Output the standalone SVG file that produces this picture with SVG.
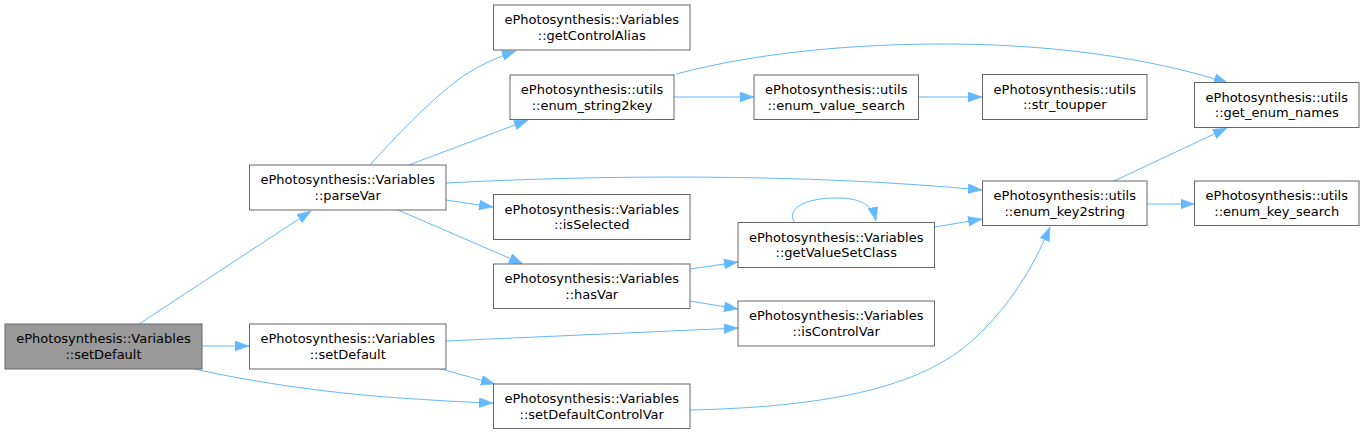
<svg xmlns="http://www.w3.org/2000/svg" width="1365" height="434" viewBox="0 0 1365 434">
<style>
.node rect{fill:#ffffff;stroke:#666666;stroke-width:1}
.node.main rect{fill:#999999}
.node text{font-family:"DejaVu Sans",sans-serif;font-size:13px;fill:#000000;text-anchor:middle}
.edges path{fill:none;stroke:#63b8ff;stroke-width:1}
</style>
<defs>
<marker id="arr" markerUnits="userSpaceOnUse" markerWidth="15" markerHeight="11" refX="14" refY="5" orient="auto">
<path d="M0,0 L14,5 L0,10 z" fill="#63b8ff" stroke="#63b8ff" stroke-width="0.5"/>
</marker>
</defs>
<rect width="1365" height="434" fill="#ffffff"/>
<g class="edges">
<path d="M139,324 L311,211" marker-end="url(#arr)"/>
<path d="M202,346 L249,346" marker-end="url(#arr)"/>
<path d="M190,368 C260,384 340,394 400,398 C430,400 460,402 493,403" marker-end="url(#arr)"/>
<path d="M370,165 C390,143 420,110 455,82 C475,67 495,58 516,51" marker-end="url(#arr)"/>
<path d="M409,165 L528,120" marker-end="url(#arr)"/>
<path d="M446,183 C600,175 800,173 982,190" marker-end="url(#arr)"/>
<path d="M446,200 L493,207" marker-end="url(#arr)"/>
<path d="M398,210 L523,264" marker-end="url(#arr)"/>
<path d="M446,341 L738,328" marker-end="url(#arr)"/>
<path d="M441,369 L495,384" marker-end="url(#arr)"/>
<path d="M674,97 L754,97" marker-end="url(#arr)"/>
<path d="M676,74 C760,52 850,45 930,44 C1050,43 1150,58 1228,83" marker-end="url(#arr)"/>
<path d="M918.7,97 L982,97" marker-end="url(#arr)"/>
<path d="M690,269 L738,262" marker-end="url(#arr)"/>
<path d="M690,301 L738,309" marker-end="url(#arr)"/>
<path d="M794,222 C786,206 810,198 836,198 C858,198 872,203 876,221" marker-end="url(#arr)"/>
<path d="M935,227 L982,219" marker-end="url(#arr)"/>
<path d="M1114,181 L1227,128" marker-end="url(#arr)"/>
<path d="M1147,204 L1194.5,204" marker-end="url(#arr)"/>
<path d="M690,410 C820,407 920,390 975,338 C1010,305 1032,270 1050,227" marker-end="url(#arr)"/>
</g>
<g id="n_main" class="node main"><rect x="5" y="324" width="197" height="45"/><text x="103.5" y="343">ePhotosynthesis::Variables</text><text x="103.5" y="358.5">::setDefault</text></g>
<g id="n_parseVar" class="node"><rect x="249.5" y="165" width="196.5" height="45"/><text x="347.75" y="184">ePhotosynthesis::Variables</text><text x="347.75" y="199.5">::parseVar</text></g>
<g id="n_setDefault2" class="node"><rect x="249.5" y="324" width="196.5" height="45"/><text x="347.75" y="343">ePhotosynthesis::Variables</text><text x="347.75" y="358.5">::setDefault</text></g>
<g id="n_getControlAlias" class="node"><rect x="493.5" y="5" width="196.5" height="45"/><text x="591.75" y="24">ePhotosynthesis::Variables</text><text x="591.75" y="39.5">::getControlAlias</text></g>
<g id="n_enum_string2key" class="node"><rect x="510" y="75" width="164" height="44.5"/><text x="592" y="94">ePhotosynthesis::utils</text><text x="592" y="109.5">::enum_string2key</text></g>
<g id="n_isSelected" class="node"><rect x="493.5" y="194.5" width="196.5" height="45"/><text x="591.75" y="213.5">ePhotosynthesis::Variables</text><text x="591.75" y="229">::isSelected</text></g>
<g id="n_hasVar" class="node"><rect x="493.5" y="264" width="196.5" height="44.5"/><text x="591.75" y="283">ePhotosynthesis::Variables</text><text x="591.75" y="298.5">::hasVar</text></g>
<g id="n_setDefaultControlVar" class="node"><rect x="493.5" y="384" width="196.5" height="44.5"/><text x="591.75" y="403">ePhotosynthesis::Variables</text><text x="591.75" y="418.5">::setDefaultControlVar</text></g>
<g id="n_enum_value_search" class="node"><rect x="754" y="75" width="164.5" height="44.5"/><text x="836.25" y="94">ePhotosynthesis::utils</text><text x="836.25" y="109.5">::enum_value_search</text></g>
<g id="n_getValueSetClass" class="node"><rect x="738" y="222.5" width="196.5" height="45"/><text x="836.25" y="241.5">ePhotosynthesis::Variables</text><text x="836.25" y="257">::getValueSetClass</text></g>
<g id="n_isControlVar" class="node"><rect x="738" y="301" width="196.5" height="45"/><text x="836.25" y="320">ePhotosynthesis::Variables</text><text x="836.25" y="335.5">::isControlVar</text></g>
<g id="n_str_toupper" class="node"><rect x="982.5" y="74.5" width="164.5" height="45"/><text x="1064.75" y="93.5">ePhotosynthesis::utils</text><text x="1064.75" y="109">::str_toupper</text></g>
<g id="n_enum_key2string" class="node"><rect x="982.5" y="181" width="164.5" height="44.5"/><text x="1064.75" y="200">ePhotosynthesis::utils</text><text x="1064.75" y="215.5">::enum_key2string</text></g>
<g id="n_get_enum_names" class="node"><rect x="1194.5" y="82.5" width="164.5" height="45"/><text x="1276.75" y="101.5">ePhotosynthesis::utils</text><text x="1276.75" y="117">::get_enum_names</text></g>
<g id="n_enum_key_search" class="node"><rect x="1194.5" y="181" width="164.5" height="44.5"/><text x="1276.75" y="200">ePhotosynthesis::utils</text><text x="1276.75" y="215.5">::enum_key_search</text></g>
</svg>
